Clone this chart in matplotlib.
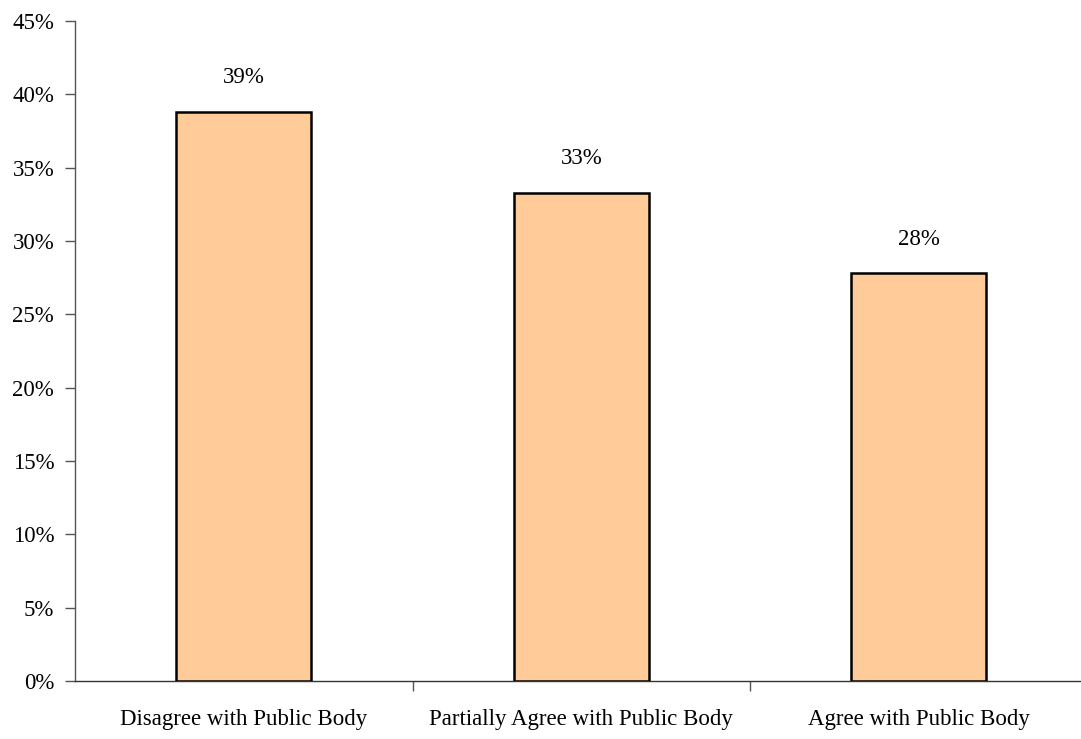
import matplotlib.pyplot as plt
from matplotlib.ticker import FuncFormatter

# data
categories = ['Disagree with Public Body', 'Partially Agree with Public Body', 'Agree with Public Body']
values = [38.8, 33.3, 27.8]
labels = ['39%', '33%', '28%']

plt.rcParams['font.family'] = ['Liberation Serif', 'DejaVu Serif']

fig = plt.figure(figsize=(10.81, 7.39), dpi=100)
ax = fig.add_axes([0.0694, 0.0785, 0.9306, 0.8931])

x = range(len(categories))
ax.bar(x, values, width=0.4, color='#FFCC99', edgecolor='black', linewidth=1.8, zorder=3)

for i, v in enumerate(values):
    ax.text(i, v + 1.6, labels[i], ha='center', va='bottom', fontsize=16.5)

ax.set_ylim(0, 45)
ax.set_xlim(-0.5, 2.48)
ax.set_yticks(range(0, 46, 5))
ax.yaxis.set_major_formatter(FuncFormatter(lambda v, p: f'{int(v)}%'))
ax.tick_params(axis='y', labelsize=16.5, length=7, width=1, color='#555555', direction='out', pad=8)

# category labels centred, tick marks between categories
ax.set_xticks([0.5, 1.5])
ax.set_xticklabels([])
ax.tick_params(axis='x', length=7, width=1, color='#555555', direction='out')
for i, c in enumerate(categories):
    ax.text(i, -2.65, c, ha='center', va='center', fontsize=16.5)

for s in ['top', 'right']:
    ax.spines[s].set_visible(False)
ax.spines['left'].set_color('#555555')
ax.spines['bottom'].set_color('#333333')
ax.spines['left'].set_linewidth(1)
ax.spines['bottom'].set_linewidth(1)

plt.savefig('out.png', dpi=100)
